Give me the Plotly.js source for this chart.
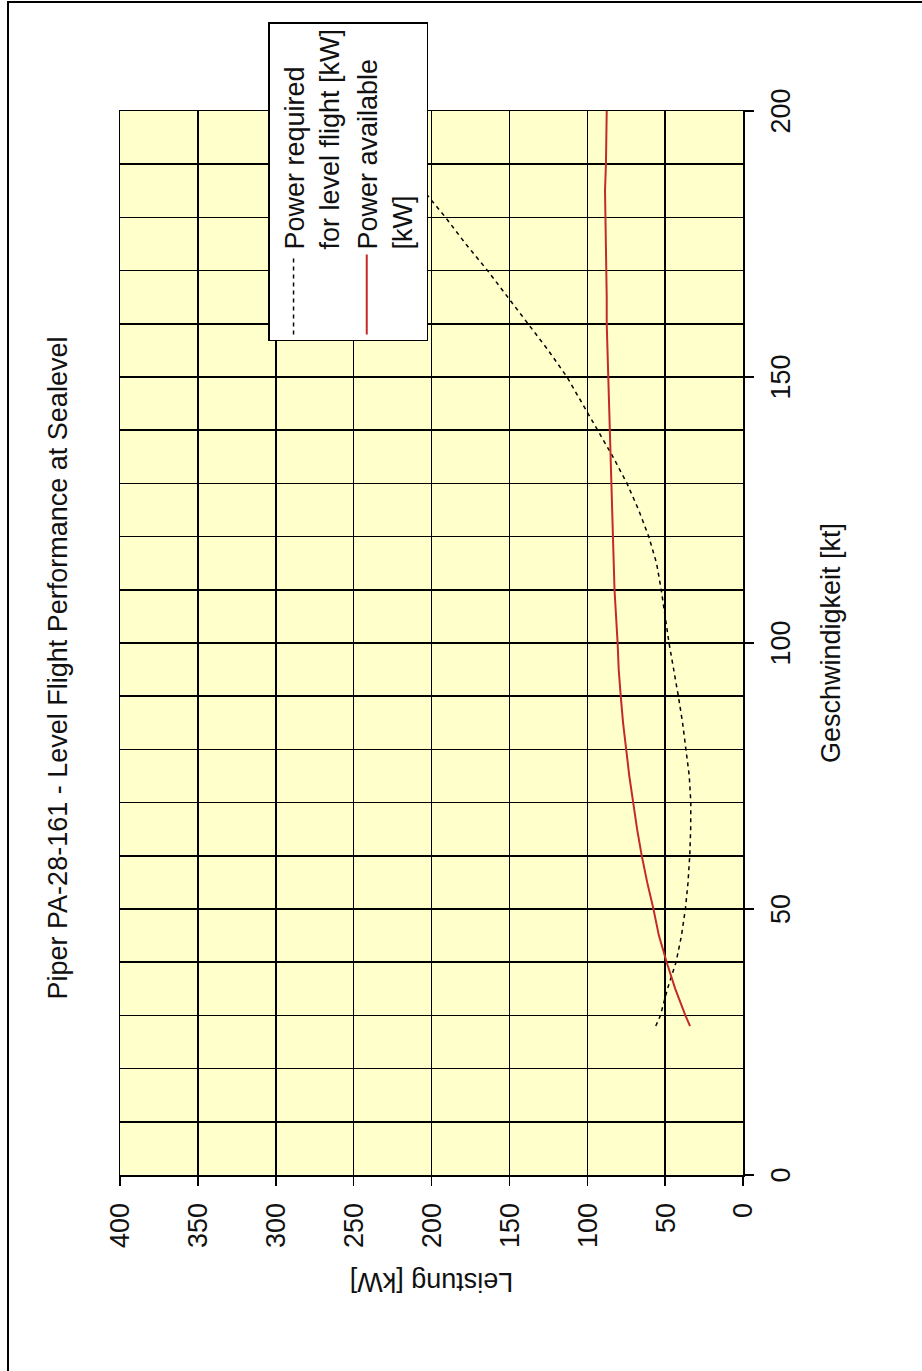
<!DOCTYPE html>
<html><head><meta charset="utf-8">
<script src="https://cdn.plot.ly/plotly-3.0.1.min.js"></script>
<style>
html,body{margin:0;padding:0;overflow:hidden;background:#fff;width:922px;height:1371px;}
#chart{position:absolute;left:0;top:0;width:1371px;height:922px;transform-origin:0 0;transform:translateY(1371px) rotate(-90deg);}
</style></head><body><div id="chart"></div>
<script>
// Data
const speedRequired = [28,30,35,40,45,50,55,60,65,70,75,80,85,90,95,100,105,110,115,120,125,130,135,140,145,150,155,160,165,170,175,180,185];
const powerRequired = [56,53,48.5,43,39.5,37,35.3,34.2,33.6,33.5,34.5,36.5,38.8,41.5,44.5,47.5,50,52.5,55.5,60.5,67,74.5,83.5,93.5,103,113,125,138,151,164,178,191,205];
const speedAvailable = [28,30,35,40,45,50,55,60,65,70,75,80,85,90,95,100,105,110,115,120,125,130,135,140,145,150,155,160,165,170,175,180,185,190,195,200];
const powerAvailable = [34,37,43.5,49,54,57.5,61.5,65,68,70.5,73,75,77,78.5,79.8,80.5,81.5,82.5,83,83.5,84.2,84.8,85.4,85.8,86.3,86.8,87.2,87.5,87.5,87.8,88.2,88.6,88.6,88,87.6,87.5];
const speedTicks = [0,50,100,150,200];
const powerTicks = [0,50,100,150,200,250,300,350,400];
const seriesNames = ["Power required<br>for level flight [kW]", "Power available<br>[kW]"];
const chartTitle = "Piper PA-28-161 - Level Flight Performance at Sealevel";
const xTitle = "Geschwindigkeit [kt]";
const yTitle = "Leistung [kW]";

const W = 1371, H = 922;
const mL = 196, mR = 111, mT = 120, mB = 179;
const pw = W - mL - mR, ph = H - mT - mB;
const px = v => (v - mL) / pw;           // pixel -> paper x
const py = v => (H - mB - v) / ph;       // pixel -> paper y
const FONT = "Liberation Sans, Arial, sans-serif";

const traces = [
  {x: speedRequired, y: powerRequired, name: seriesNames[0], type: 'scatter', mode: 'lines',
   line: {color: '#000000', width: 1.5, dash: '4px,4px'}},
  {x: speedAvailable, y: powerAvailable, name: seriesNames[1], type: 'scatter', mode: 'lines',
   line: {color: '#c42a2a', width: 2}}
];

const layout = {
  width: W, height: H,
  margin: {l: mL, r: mR, t: mT, b: mB, pad: 0},
  paper_bgcolor: '#ffffff',
  plot_bgcolor: '#ffffcc',
  font: {family: FONT, size: 27, color: '#111111'},
  title: {text: chartTitle, font: {family: FONT, size: 27, color: '#111111'},
          x: 703 / W, xanchor: 'center', xref: 'container', y: 1 - 58 / H, yanchor: 'middle', yref: 'container'},
  showlegend: true,
  legend: {x: px(1030), y: py(268), xanchor: 'left', yanchor: 'top', valign: 'top',
           itemwidth: 80,
           bgcolor: '#ffffff', bordercolor: '#000000', borderwidth: 1.5,
           font: {family: FONT, size: 27, color: '#111111'}, tracegroupgap: 6},
  xaxis: {range: [0, 200], tickvals: speedTicks, ticktext: speedTicks.map(String),
          showgrid: true, gridcolor: '#000000', gridwidth: 1.5,
          minor: {dtick: 10, showgrid: true, gridcolor: '#000000', gridwidth: 1.5, ticks: ''},
          showline: true, linecolor: '#000000', linewidth: 1.5, mirror: true,
          ticks: 'outside', ticklen: 9, tickwidth: 1.5, tickcolor: '#000000',
          ticklabelstandoff: 4, zeroline: false, fixedrange: true,
          title: {text: xTitle, font: {family: FONT, size: 27, color: '#111111'}, standoff: 26}},
  yaxis: {range: [0, 400], tickvals: powerTicks, ticktext: powerTicks.map(String),
          showgrid: true, gridcolor: '#000000', gridwidth: 1.5,
          showline: true, linecolor: '#000000', linewidth: 1.5, mirror: true,
          ticks: 'outside', ticklen: 9, tickwidth: 1.5, tickcolor: '#000000',
          ticklabelstandoff: 12, zeroline: false, fixedrange: true,
          title: {text: yTitle, font: {family: FONT, size: 27, color: '#111111'}, standoff: 16}},
  shapes: [
    {type: 'rect', xref: 'paper', yref: 'paper', layer: 'below',
     x0: px(-20), x1: px(1369), y0: py(940), y1: py(8),
     line: {color: '#000000', width: 2}, fillcolor: 'rgba(0,0,0,0)'}
  ]
};

Plotly.newPlot('chart', traces, layout, {staticPlot: true, displayModeBar: false});
</script></body></html>
